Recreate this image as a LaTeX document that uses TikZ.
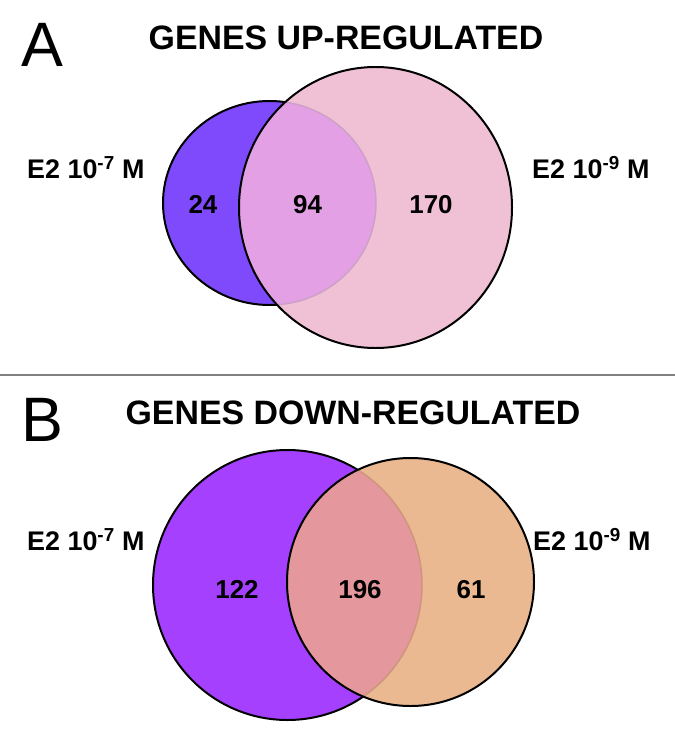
\documentclass[tikz,border=0pt]{standalone}
\usepackage{fontspec}
\setmainfont{Liberation Sans}
\usepackage{tikz}
\usetikzlibrary{positioning}
\usepackage{xcolor}
\definecolor{upseven}{RGB}{126,74,252}
\definecolor{upnine}{RGB}{240,193,212}
\definecolor{upboth}{RGB}{228,160,228}
\definecolor{upedge}{RGB}{205,160,200}
\definecolor{downseven}{RGB}{165,64,255}
\definecolor{downnine}{RGB}{234,185,146}
\definecolor{downboth}{RGB}{228,151,156}
\definecolor{downedge}{RGB}{205,150,125}

\begin{document}
\begin{tikzpicture}[x=1bp, y=-1bp,
  panel/.style={inner sep=0pt, anchor=base west, font=\fontsize{63}{63}\selectfont},
  headline/.style={inner sep=0pt, anchor=base, font=\bfseries\fontsize{34}{34}\selectfont},
  dose/.style={inner sep=0pt, font=\bfseries\fontsize{27}{27}\selectfont},
  count/.style={inner sep=0pt, anchor=base, font=\bfseries\fontsize{26}{26}\selectfont},
  rim/.style={draw=black, line width=2pt},
]
\useasboundingbox (0,0) rectangle (675,750);

% panel A
\node[panel] (letA) at (21,67) {A};
\node[headline] (titleA) at (346,50) {GENES UP-REGULATED};

\filldraw[fill=upseven, rim] (269.5,203) ellipse [x radius=106.5, y radius=102];
\fill[upnine] (375.5,207.5) ellipse [x radius=136.5, y radius=140.5];
\begin{scope}
  \clip (375.5,207.5) ellipse [x radius=136.5, y radius=140.5];
  \fill[upboth] (269.5,203) ellipse [x radius=106.5, y radius=102];
  \draw[upedge, line width=1.5pt] (269.5,203) ellipse [x radius=106.5, y radius=102];
\end{scope}
\draw[rim] (375.5,207.5) ellipse [x radius=136.5, y radius=140.5];

\node[dose, anchor=base west] (sevenA) at (27,178) {E2 10\textsuperscript{-7} M};
\node[dose, anchor=base west] (nineA) at (532,178) {E2 10\textsuperscript{-9} M};
\node[count] (onlyA7) at (203,213) {24};
\node[count] (bothA) at (307.5,213) {94};
\node[count] (onlyA9) at (431,213) {170};

% separator
\coordinate (sepL) at (0,375);
\coordinate (sepR) at (675,375);
\draw[black!50, line width=2.2pt] (sepL) -- (sepR);

% panel B
\node[panel] (letB) at (21,441) {B};
\node[headline] (titleB) at (353,424) {GENES DOWN-REGULATED};

\filldraw[fill=downseven, rim] (287.5,585) ellipse [x radius=134.5, y radius=135];
\fill[downnine] (410.5,582) ellipse [x radius=123.5, y radius=124];
\begin{scope}
  \clip (410.5,582) ellipse [x radius=123.5, y radius=124];
  \fill[downboth] (287.5,585) ellipse [x radius=134.5, y radius=135];
  \draw[downedge, line width=1.5pt] (287.5,585) ellipse [x radius=134.5, y radius=135];
\end{scope}
\draw[rim] (410.5,582) ellipse [x radius=123.5, y radius=124];

\node[dose, anchor=base west] (sevenB) at (27,550) {E2 10\textsuperscript{-7} M};
\node[dose, anchor=base west] (nineB) at (533,550) {E2 10\textsuperscript{-9} M};
\node[count] (onlyB7) at (237,598) {122};
\node[count] (bothB) at (360,598) {196};
\node[count] (onlyB9) at (471,598) {61};
\end{tikzpicture}
\end{document}
